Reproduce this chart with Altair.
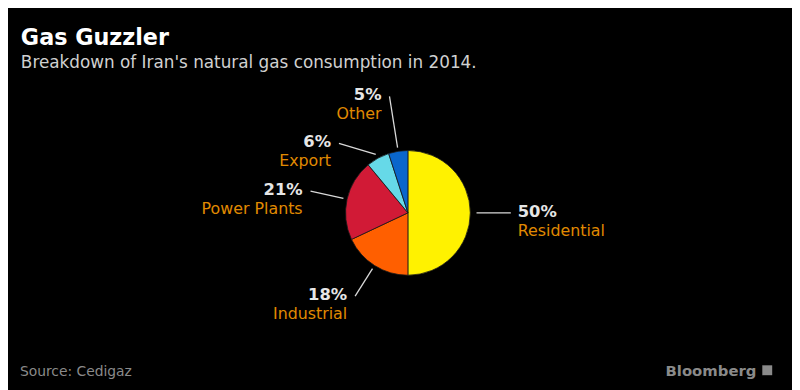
import altair as alt
import numpy as np
import pandas as pd

# ---- data ----
categories = ["Residential", "Industrial", "Power Plants", "Export", "Other"]
shares = [50, 18, 21, 6, 5]
colors = ["#FFF200", "#FF5F00", "#D11A36", "#66D9E8", "#0A66CC"]

title_text = ["Gas Guzzler"]
subtitle_text = ["Breakdown of Iran's natural gas consumption in 2014."]
source_text = ["Source: Cedigaz"]
brand_text = ["Bloomberg"]

# ---- label layout (inner radius, outer radius, angle shift in degrees, side), in pie radii ----
LAYOUT = {
    "Residential": (1.10, 1.65, 0, "left"),
    "Industrial": (1.06, 1.58, 0, "right"),
    "Power Plants": (1.06, 1.60, 0, "right"),
    "Export": (1.07, 1.57, -16, "right"),
    "Other": (1.06, 1.89, 0, "right"),
}

FONT = "DejaVu Sans"
CX, CY, R = 404, 205, 63

df = pd.DataFrame({"category": categories, "share": shares, "order": range(len(categories))})
total = df["share"].sum()
cum = df["share"].cumsum()
start = (cum - df["share"]) / total * 2 * np.pi
end = cum / total * 2 * np.pi
mid = (start + end) / 2

r_in = df["category"].map(lambda c: LAYOUT[c][0])
r_out = df["category"].map(lambda c: LAYOUT[c][1])
shift = df["category"].map(lambda c: np.deg2rad(LAYOUT[c][2]))
df["side"] = df["category"].map(lambda c: LAYOUT[c][3])
df["x1"] = r_in * np.sin(mid)
df["y1"] = r_in * np.cos(mid)
df["x2"] = r_out * np.sin(mid + shift)
df["y2"] = r_out * np.cos(mid + shift)
df["pct"] = df["share"].astype(str) + "%"

xs = alt.Scale(domain=[-1, 1], range=[CX - R, CX + R])
ys = alt.Scale(domain=[-1, 1], range=[CY + R, CY - R])
noax = None

base = alt.Chart(df)

pie = base.mark_arc(outerRadius=R, innerRadius=0, stroke="#1a1a1a", strokeWidth=0.8).encode(
    theta=alt.Theta("share:Q", stack=True),
    color=alt.Color("category:N", scale=alt.Scale(domain=categories, range=colors), legend=None),
    order=alt.Order("order:Q"),
    x=alt.value(CX),
    y=alt.value(CY),
)

leaders = base.mark_rule(color="#d9d9d9", strokeWidth=1.3).encode(
    x=alt.X("x1:Q", scale=xs, axis=noax),
    y=alt.Y("y1:Q", scale=ys, axis=noax),
    x2="x2:Q",
    y2="y2:Q",
)

def labels(side, dx, align):
    sub = base.transform_filter(alt.datum.side == side)
    pct = sub.mark_text(
        align=align, baseline="middle", dx=dx, dy=-1, font=FONT, fontSize=16.5,
        fontWeight="bold", color="#e6e6e6",
    ).encode(
        x=alt.X("x2:Q", scale=xs, axis=noax),
        y=alt.Y("y2:Q", scale=ys, axis=noax),
        text="pct:N",
    )
    name = sub.mark_text(
        align=align, baseline="middle", dx=dx, dy=18, font=FONT, fontSize=16,
        color="#E08A00",
    ).encode(
        x=alt.X("x2:Q", scale=xs, axis=noax),
        y=alt.Y("y2:Q", scale=ys, axis=noax),
        text="category:N",
    )
    return pct + name

def note(texts, x, y, size, color, weight="normal", align="left"):
    return alt.Chart(pd.DataFrame({"t": texts})).mark_text(
        align=align, baseline="alphabetic", font=FONT, fontSize=size,
        fontWeight=weight, color=color,
    ).encode(x=alt.value(x), y=alt.value(y), text="t:N")

title = note(title_text, 13, 35, 22.5, "#ffffff", weight="bold")
subtitle = note(subtitle_text, 13, 59, 17, "#d0d0d0")
source = note(source_text, 12, 370, 14, "#8a8a8a")
brand = note(brand_text, 756, 370, 15, "#8a8a8a", weight=600, align="right")
logo = alt.Chart(pd.DataFrame({"t": brand_text})).mark_point(
    shape="square", filled=True, size=100, color="#8a8a8a", opacity=1
).encode(x=alt.value(767), y=alt.value(364))

chart = alt.layer(
    pie, leaders, labels("left", 7, "left"), labels("right", -8, "right"),
    title, subtitle, source, brand, logo,
).properties(
    width=792, height=382, background="black", padding=0,
    autosize=alt.AutoSizeParams(type="none"),
).configure_view(stroke=None)

chart.save("out.html", embed_options={"renderer": "svg", "actions": False})
